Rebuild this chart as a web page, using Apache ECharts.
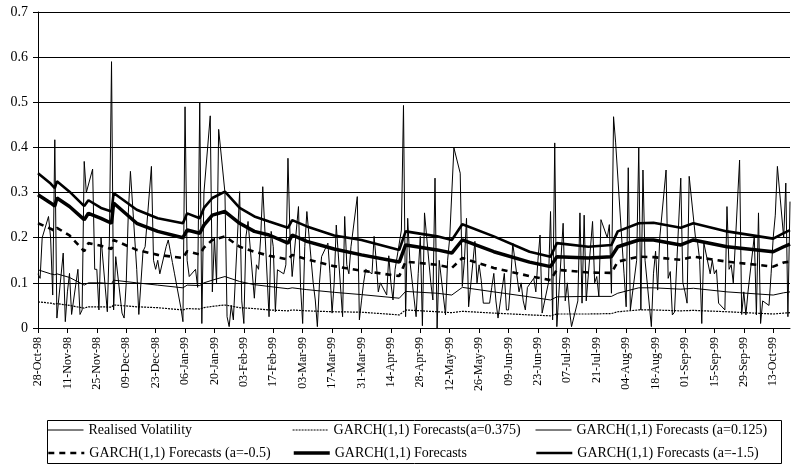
<!DOCTYPE html>
<html>
<head>
<meta charset="utf-8">
<script src="https://cdn.jsdelivr.net/npm/echarts@6/dist/echarts.min.js"></script>
<style>
html,body{margin:0;padding:0;background:#fff;}
#chart{width:794px;height:464px;}
</style>
</head>
<body>
<div id="chart"></div>
<script>
// ---- data ----
const startDateUTC = Date.UTC(1998, 9, 28); // 28-Oct-98 (day 0)
const axisMaxDay = 358;                      // 21-Oct-99
const tickLabels = ['28-Oct-98','11-Nov-98','25-Nov-98','09-Dec-98','23-Dec-98','06-Jan-99','20-Jan-99','03-Feb-99','17-Feb-99','03-Mar-99','17-Mar-99','31-Mar-99','14-Apr-99','28-Apr-99','12-May-99','26-May-99','09-Jun-99','23-Jun-99','07-Jul-99','21-Jul-99','04-Aug-99','18-Aug-99','01-Sep-99','15-Sep-99','29-Sep-99','13-Oct-99'];
const tickStepDays = 14;
const yTicks = [0, 0.1, 0.2, 0.3, 0.4, 0.5, 0.6, 0.7];

// realised volatility, one value per weekday from 28-Oct-98 to 21-Oct-99
const realisedVol = [
  .12,.11,.2,.247,.2,.073,.417,.022,.166,.014,
  .08,.121,.03,.13,.03,.04,.369,.3,.352,.13,
  .13,.04,.2,.036,.2,.59,.04,.158,.033,.022,
  .1,.255,.347,.13,.03,.1,.17,.18,.358,.15,
  .13,.15,.12,.18,.195,.17,.145,.12,.045,.014,
  .49,.15,.114,.13,.09,.5,.01,.3,.47,.08,
  .2,.1,.44,.3,.025,.003,.05,.018,.302,.06,
  .01,.203,.236,.066,.14,.13,.2,.313,.025,.214,
  .18,.036,.129,.12,.14,.376,.2,.114,.269,.09,
  .01,.18,.258,.1,.062,.003,.1,.158,.188,.12,
  .033,.1,.228,.025,.247,.14,.12,.18,.291,.018,
  .06,.1,.13,.12,.203,.15,.08,.1,.073,.16,
  .1,.062,.13,.217,.493,.025,.243,.15,.025,.12,
  .203,.005,.255,.1,.062,.332,0,.15,.029,.15,
  .2,.3,.399,.343,.092,.15,.243,.047,.192,.1,
  .14,.106,.055,.055,.09,.121,.06,.022,.121,.04,
  .04,.1,.188,.08,.1,.06,.04,.09,.11,.08,
  .15,.206,.033,.1,.258,.018,.41,.003,.232,.06,
  .1,.04,.003,.06,.255,.055,.25,.06,.236,.1,
  .114,.07,.24,.2,.229,.077,.468,.41,.19,.12,
  .047,.355,.04,.15,.399,.04,.35,.15,.003,.12,
  .17,.084,.2,.35,.11,.125,.029,.035,.332,.1,
  .08,.055,.336,.2,.19,.15,.01,.188,.12,.15,
  .12,.129,.055,.04,.269,.13,.14,.1,.372,.03,
  .08,.029,.08,.203,.029,.255,.01,.06,.05,.12,
  .2,.25,.358,.2,.321,.025,.28
];

// forecast series read at these day offsets (days since 28-Oct-98)
const forecastDays = [0,6,8,9,15,22,24,30,35,36,47,57,69,71,77,79,83,89,96,103,110,119,121,128,141,154,172,175,190,197,202,217,234,244,247,262,273,276,286,293,306,312,328,350,355,358];
const garchA0375 = [.058,.055,.053,.054,.05,.044,.047,.047,.046,.051,.047,.045,.04,.043,.042,.045,.048,.051,.045,.043,.04,.038,.04,.038,.036,.035,.029,.04,.036,.034,.037,.033,.029,.027,.031,.031,.032,.036,.04,.04,.038,.039,.036,.031,.033,.034];
const garchA0125 = [.129,.12,.118,.12,.112,.095,.1,.1,.098,.106,.1,.095,.089,.095,.094,.1,.106,.114,.103,.096,.092,.087,.089,.085,.079,.074,.066,.081,.077,.073,.09,.08,.069,.062,.069,.07,.07,.077,.089,.089,.086,.088,.08,.073,.078,.08];
const garchAm05  = [.232,.22,.215,.222,.205,.17,.188,.182,.175,.195,.173,.162,.155,.17,.163,.178,.195,.203,.18,.169,.16,.152,.162,.152,.137,.127,.115,.147,.14,.133,.155,.133,.115,.106,.129,.123,.122,.147,.158,.157,.151,.158,.147,.136,.145,.147];
const garchBase  = [.295,.277,.27,.288,.269,.24,.254,.243,.232,.277,.232,.214,.2,.217,.21,.228,.25,.258,.232,.214,.206,.188,.206,.192,.175,.162,.146,.184,.173,.166,.195,.169,.146,.136,.158,.155,.158,.18,.195,.195,.184,.195,.18,.169,.18,.186];
const garchAm15  = [.343,.32,.31,.325,.302,.27,.283,.266,.258,.299,.262,.243,.232,.254,.243,.266,.288,.302,.266,.247,.236,.222,.239,.225,.205,.195,.173,.214,.203,.195,.23,.203,.169,.158,.188,.18,.184,.214,.232,.233,.222,.232,.214,.198,.21,.217];

const seriesNames = [
  'Realised Volatility',
  'GARCH(1,1) Forecasts(a=0.375)',
  'GARCH(1,1) Forecasts (a=0.125)',
  'GARCH(1,1) Forecasts (a=-0.5)',
  'GARCH(1,1) Forecasts',
  'GARCH(1,1) Forecasts (a=-1.5)'
];

// ---- build ----
const weekdayOffsets = [];
for (let d = 0; d <= axisMaxDay; d++) {
  const wd = new Date(startDateUTC + d * 86400000).getUTCDay();
  if (wd !== 0 && wd !== 6) weekdayOffsets.push(d);
}
const rvData = realisedVol.map((v, i) => [weekdayOffsets[i], v]);
const fc = arr => arr.map((v, i) => [forecastDays[i], v]);
const tickDays = tickLabels.map((_, i) => i * tickStepDays);
const labelByDay = {};
tickDays.forEach((d, i) => labelByDay[d] = tickLabels[i]);

const FONT = 'Liberation Serif';
const chart = echarts.init(document.getElementById('chart'), null, {renderer: 'canvas'});

const styles = [
  {color: '#000', width: 1},
  {color: '#000', width: 1.2, type: [2, 1]},
  {color: '#000', width: 1},
  {color: '#000', width: 2.6, type: [6, 5]},
  {color: '#000', width: 3.5},
  {color: '#000', width: 2.6}
];

const legendSlots = [
  {idx: 0, left: 47, top: 423},
  {idx: 1, left: 292, top: 423},
  {idx: 2, left: 535, top: 423},
  {idx: 3, left: 47, top: 446},
  {idx: 4, left: 292, top: 446},
  {idx: 5, left: 535, top: 446}
];

const seriesData = [rvData, fc(garchA0375), fc(garchA0125), fc(garchAm05), fc(garchBase), fc(garchAm15)];
const zOrder = [7, 2, 3, 4, 5, 6];

const option = {
  animation: false,
  backgroundColor: '#fff',
  grid: {left: 38, right: 4, top: 12, bottom: 136, containLabel: false},
  xAxis: {
    type: 'value', min: 0, max: axisMaxDay,
    axisLine: {show: true, onZero: false, lineStyle: {color: '#000', width: 1}},
    axisTick: {show: true, length: 5, lineStyle: {color: '#000'}, customValues: tickDays},
    axisLabel: {
      rotate: 90, margin: 9, color: '#000', fontFamily: FONT, fontSize: 12,
      customValues: tickDays,
      formatter: v => labelByDay[v] || ''
    },
    splitLine: {show: false}
  },
  yAxis: {
    type: 'value', min: yTicks[0], max: yTicks[yTicks.length - 1], interval: 0.1,
    axisLine: {show: true, lineStyle: {color: '#000', width: 1}},
    axisTick: {show: true, length: 5, lineStyle: {color: '#000'}},
    axisLabel: {color: '#000', fontFamily: FONT, fontSize: 14, margin: 10,
      formatter: v => String(Math.round(v * 10) / 10)},
    splitLine: {show: true, lineStyle: {color: '#000', width: 1}}
  },
  legend: legendSlots.map(s => ({
    data: [seriesNames[s.idx]], left: s.left, top: s.top, padding: 0,
    itemWidth: 36, itemHeight: 14, selectedMode: false,
    itemStyle: {opacity: 0},
    lineStyle: Object.assign({}, styles[s.idx]),
    textStyle: {color: '#000', fontFamily: FONT, fontSize: 14}
  })),
  graphic: [{
    type: 'rect', left: 45, top: 418, z: 100,
    shape: {width: 734, height: 43},
    style: {fill: 'none', stroke: '#000', lineWidth: 1}
  }],
  series: seriesNames.map((name, i) => ({
    name, type: 'line', data: seriesData[i], symbol: 'none',
    lineStyle: Object.assign({}, styles[i]), itemStyle: {color: '#000'}, z: zOrder[i]
  }))
};
chart.setOption(option);
</script>
</body>
</html>
